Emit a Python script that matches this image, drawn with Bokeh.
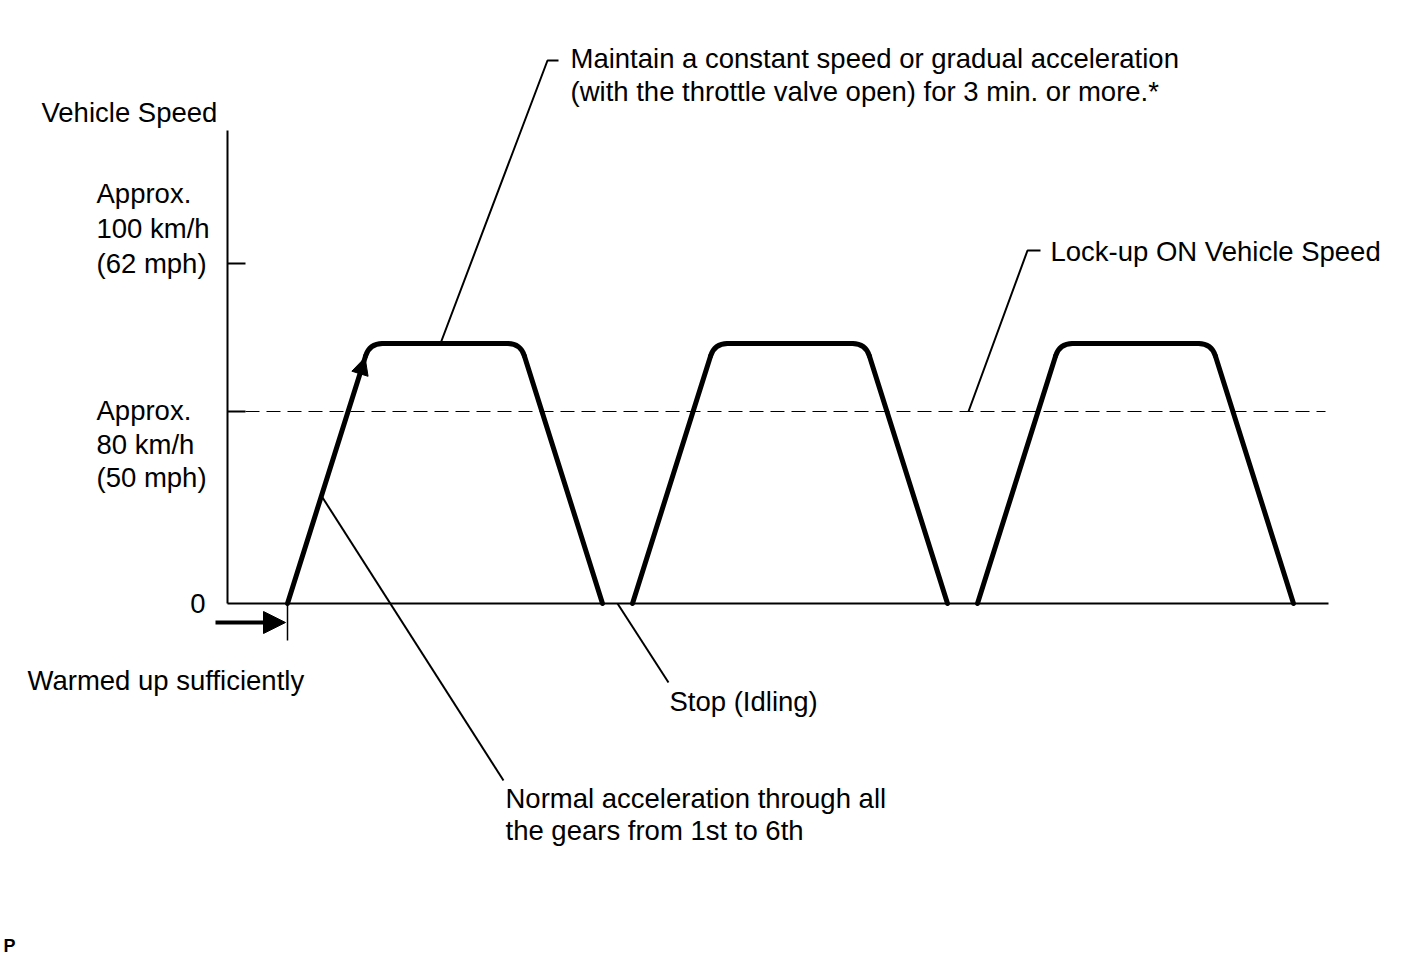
from bokeh.plotting import figure
from bokeh.models import Range1d, LinearAxis, FixedTicker, Arrow, NormalHead
from bokeh.core.properties import value
from bokeh.embed import file_html
from bokeh.resources import INLINE
import math

# ---------------- data (schematic units: time along x, speed along y) ----------------
cycle_start = [60, 405, 750]      # vehicle starts moving from standstill
cycle_reach = [142, 487, 832]     # cruising speed reached
cycle_leave = [293, 638, 984]     # deceleration begins
cycle_stop = [375, 720, 1066]     # vehicle stopped (idling)
cruise_speed = 260                # held speed (above lock-up speed)
lockup_speed = 192                # "Approx. 80 km/h (50 mph)"
high_speed = 340                  # "Approx. 100 km/h (62 mph)"
time_end = 1101
speed_top = 473

label_zero = "0"
label_80 = ["Approx.", "80 km/h", "(50 mph)"]
label_100 = ["Approx.", "100 km/h", "(62 mph)"]
title_text = "Vehicle Speed"
note_const = ["Maintain a constant speed or gradual acceleration",
              "(with the throttle valve open) for 3 min. or more.*"]
note_lockup = "Lock-up ON Vehicle Speed"
note_normal = ["Normal acceleration through all", "the gears from 1st to 6th"]
note_stop = "Stop (Idling)"
note_warm = "Warmed up sufficiently"
corner_mark = "P"

FONT = value("Liberation Sans")
FS = "27.5px"

p = figure(width=1416, height=955,
           x_range=Range1d(-227, 1189), y_range=Range1d(-352, 603),
           x_axis_type=None, y_axis_type=None,
           toolbar_location=None, output_backend="svg", min_border=0)
p.outline_line_color = None
p.background_fill_color = "white"
p.border_fill_color = "white"

# ---------------- axes ----------------
yaxis = LinearAxis(fixed_location=0, bounds=(0, speed_top),
                   ticker=FixedTicker(ticks=[lockup_speed, high_speed]),
                   major_tick_in=18, major_tick_out=0,
                   minor_tick_in=0, minor_tick_out=0,
                   axis_line_width=2, major_tick_line_width=2,
                   major_label_text_color=None)
p.add_layout(yaxis, "left")

xaxis = LinearAxis(fixed_location=0, bounds=(0, time_end),
                   ticker=FixedTicker(ticks=[cycle_start[0]]),
                   major_tick_in=0, major_tick_out=37,
                   minor_tick_in=0, minor_tick_out=0,
                   axis_line_width=2, major_tick_line_width=1.5,
                   major_label_text_color=None)
p.add_layout(xaxis, "below")

# lock-up speed dashed line
p.segment(x0=[18], y0=[lockup_speed], x1=[time_end - 3], y1=[lockup_speed],
          line_color="black", line_width=1, line_dash="14 7")

# ---------------- speed trace with rounded corners ----------------
R = 13


def toward(a, b, d):
    dx, dy = b[0] - a[0], b[1] - a[1]
    L = math.hypot(dx, dy)
    return (a[0] + dx * d / L, a[1] + dy * d / L)


seg_xs, seg_ys = [], []
qx0, qy0, qx1, qy1, qcx, qcy = [], [], [], [], [], []
for s, a, l, e in zip(cycle_start, cycle_reach, cycle_leave, cycle_stop):
    P0, P1, P2, P3 = (s, 0), (a, cruise_speed), (l, cruise_speed), (e, 0)
    a_in = toward(P1, P0, R)
    a_out = toward(P1, P2, R)
    l_in = toward(P2, P1, R)
    l_out = toward(P2, P3, R)
    for u, v in [(P0, a_in), (a_out, l_in), (l_out, P3)]:
        seg_xs.append([u[0], v[0]])
        seg_ys.append([u[1], v[1]])
    for u, c, v in [(a_in, P1, a_out), (l_in, P2, l_out)]:
        qx0.append(u[0]); qy0.append(u[1])
        qx1.append(v[0]); qy1.append(v[1])
        qcx.append(c[0]); qcy.append(c[1])

p.multi_line(xs=seg_xs, ys=seg_ys, line_color="black", line_width=5, line_cap="round")
p.quadratic(x0=qx0, y0=qy0, x1=qx1, y1=qy1, cx=qcx, cy=qcy,
            line_color="black", line_width=5, line_cap="round")

# arrow head on first acceleration
frac = 0.946
tip = (cycle_start[0] + frac * (cycle_reach[0] - cycle_start[0]), frac * cruise_speed)
tail = toward(tip, (cycle_start[0], 0), 30)
p.add_layout(Arrow(end=NormalHead(size=17, fill_color="black", line_color="black", line_width=1),
                   x_start=tail[0], y_start=tail[1], x_end=tip[0], y_end=tip[1],
                   line_alpha=0))

# warm-up arrow
p.add_layout(Arrow(end=NormalHead(size=22, fill_color="black", line_color="black", line_width=1),
                   x_start=-12, y_start=-19, x_end=cycle_start[0] - 2, y_end=-19,
                   line_width=4, line_color="black"))

# ---------------- leader lines ----------------
leaders_x = [[213, 320, 331], [741, 800, 813], [95, 276], [390, 441]]
leaders_y = [[cruise_speed, 543, 543], [lockup_speed, 353, 353], [106, -177], [0, -79]]
p.multi_line(xs=leaders_x, ys=leaders_y, line_color="black", line_width=2)

# ---------------- texts ----------------
tx, ty, tt = [], [], []


def add(x, y, t):
    tx.append(x); ty.append(y); tt.append(t)


add(-186, 491, title_text)
for i, t in enumerate(label_100):
    add(-131, high_speed + 70 - 35 * i, t)
for i, t in enumerate(label_80):
    add(-131, lockup_speed + 1 - 33.5 * i, t)
for i, t in enumerate(note_const):
    add(343, 545 - 33 * i, t)
add(823, 352, note_lockup)
for i, t in enumerate(note_normal):
    add(278, -195 - 32 * i, t)
add(442, -98, note_stop)
add(-200, -77, note_warm)

p.text(x=tx, y=ty, text=tt, text_font=FONT, text_font_size=FS,
       text_align="left", text_baseline="middle", text_color="black")
p.text(x=[-22], y=[0], text=[label_zero], text_font=FONT, text_font_size=FS,
       text_align="right", text_baseline="middle", text_color="black")
p.text(x=[-224], y=[-342], text=[corner_mark], text_font=FONT, text_font_size="18px",
       text_font_style="bold", text_align="left", text_baseline="middle", text_color="black")

open("out.html", "w").write(file_html(p, INLINE))
